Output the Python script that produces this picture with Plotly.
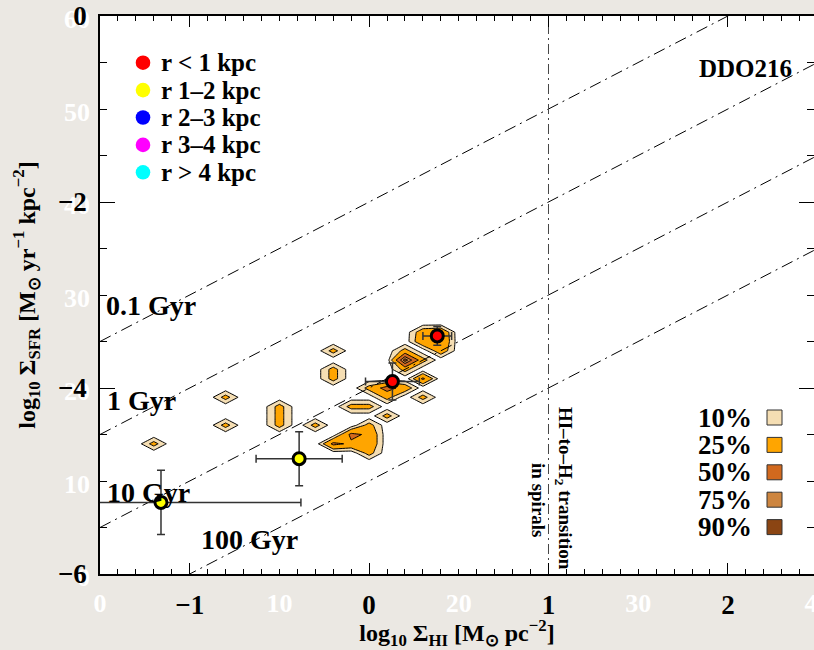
import numpy as np
import plotly.graph_objects as go

# ---------------- data ----------------
# radial-bin averages (r < 1 kpc : red, r 1-2 kpc : yellow)
red_x = [0.38, 0.13]
red_y = [-3.44, -3.93]
red_xerr = [0.08, 0.15]
red_yerr = [0.10, 0.20]

yel_x = [-0.39, -1.16]
yel_y = [-4.76, -5.23]
yel_xerr = [0.24, 0.78]
yel_yerr = [0.29, 0.345]

# constant depletion-time lines
depl_times_gyr = [0.1, 1, 10, 100]
depl_labels = ["0.1 Gyr", "1 Gyr", "10 Gyr", "100 Gyr"]
depl_label_x = [-1.48, -1.47, -1.47, -0.95]
depl_label_y = [-3.11, -4.13, -5.12, -5.63]

transition_x = 1.0

# pixel-density map (0.1 dex cells), value in % of peak density
cell_blob = ["C", "A", "B", "V", "V", "V", "F", "D", "E", "E", "G", "G", "H", "I", "J",
             "L", "L", "L", "L",
             "K", "K", "K", "K", "K", "K", "K",
             "M", "M", "M", "M",
             "N", "N", "N", "N", "N"]
cell_x = [-1.2, -0.8, -0.8, -0.5, -0.5, -0.5, -0.3, -0.2, -0.2, -0.2, -0.1, 0.0, 0.1, 0.3, 0.3,
          0.0, 0.1, 0.2, 0.1,
          0.0, -0.1, 0.0, -0.2, -0.1, 0.0, 0.0,
          0.2, 0.2, 0.3, 0.2,
          0.3, 0.4, 0.3, 0.4, 0.4]
cell_y = [-4.6, -4.1, -4.4, -4.2, -4.3, -4.4, -4.4, -3.6, -3.8, -3.9, -4.2, -4.2, -4.3, -4.1, -3.9,
          -4.0, -4.0, -4.0, -4.1,
          -4.4, -4.5, -4.5, -4.6, -4.6, -4.6, -4.7,
          -3.6, -3.7, -3.7, -3.8,
          -3.4, -3.4, -3.5, -3.5, -3.6]
cell_pct = [33, 33, 33, 33, 33, 33, 33, 33, 33, 33, 33, 33, 33, 33, 55,
            33, 60, 40, 33,
            33, 57, 45, 57, 45, 45, 33,
            33, 100, 33, 33,
            40, 45, 45, 48, 40]

contour_levels = [10, 25, 50, 75, 90]
contour_labels = ["10%", "25%", "50%", "75%", "90%"]
contour_colors = ["#f5deb3", "#ffa500", "#d2691e", "#cd853f", "#8b4513"]

radial_labels = ["r < 1 kpc", "r 1–2 kpc", "r 2–3 kpc", "r 3–4 kpc", "r > 4 kpc"]
radial_colors = ["#ff0000", "#ffff00", "#0000ff", "#ff00ff", "#00ffff"]

x_range = [-1.5, 2.48]
y_range = [-6.0, 0.0]
x_ticks = [-1, 0, 1, 2]
y_ticks = [0, -2, -4, -6]

ghost_x_vals = [-1.5, -0.5, 0.5, 1.5, 2.5]
ghost_x_text = ["0", "10", "20", "30", "40"]
ghost_y_vals = [0, -1, -2, -3, -4, -5, -6]
ghost_y_text = ["60", "50", "40", "30", "20", "10", "0"]

FONT = "Liberation Serif"
W, H = 814, 650
ML, MR, MT, MB = 100, 0, 16, 76
PW, PH = W - ML - MR, H - MT - MB


def xp(v):
    return (v - x_range[0]) / (x_range[1] - x_range[0])


def yp(v):
    return (v - y_range[0]) / (y_range[1] - y_range[0])


fig = go.Figure()

# depletion-time lines
xl = np.array([-1.5, 2.5])
for t in depl_times_gyr:
    fig.add_trace(go.Scatter(x=xl, y=xl - 3 - np.log10(t), mode="lines",
                             line=dict(color="black", width=1, dash="12px,5px,2px,5px"),
                             hoverinfo="skip", showlegend=False))
# HI-to-H2 transition
fig.add_trace(go.Scatter(x=[transition_x, transition_x], y=y_range, mode="lines",
                         line=dict(color="#444", width=1, dash="10px,4px,2px,4px"),
                         hoverinfo="skip", showlegend=False))

# density contours, one grid per connected blob
step = 0.1
blobs = []
for b in cell_blob:
    if b not in blobs:
        blobs.append(b)
for b in blobs:
    idx = [i for i, bb in enumerate(cell_blob) if bb == b]
    xs = [cell_x[i] for i in idx]
    ys = [cell_y[i] for i in idx]
    nx = int(round((max(xs) - min(xs)) / step)) + 5
    ny = int(round((max(ys) - min(ys)) / step)) + 5
    gx = np.round(min(xs) - 2 * step + step * np.arange(nx), 3)
    gy = np.round(min(ys) - 2 * step + step * np.arange(ny), 3)
    z = np.zeros((ny, nx))
    for i in idx:
        ix = int(round((cell_x[i] - gx[0]) / step))
        iy = int(round((cell_y[i] - gy[0]) / step))
        z[iy, ix] = cell_pct[i]
    for lev, col in zip(contour_levels, contour_colors):
        fig.add_trace(go.Contour(
            x=gx, y=gy, z=z, autocontour=False,
            contours=dict(start=lev, end=lev, size=1, coloring="fill", showlines=True),
            line=dict(color="black", width=1, smoothing=0),
            colorscale=[[0, "rgba(255,255,255,0)"], [1, col]],
            showscale=False, hoverinfo="skip", showlegend=False))

# radial-bin points
err_style = dict(type="data", color="#333", thickness=1.5, width=4)
fig.add_trace(go.Scatter(x=red_x, y=red_y, mode="markers",
                         error_x=dict(array=red_xerr, **err_style),
                         error_y=dict(array=red_yerr, **err_style),
                         marker=dict(color=radial_colors[0], size=12,
                                     line=dict(color="black", width=3)),
                         name=radial_labels[0], showlegend=False))
fig.add_trace(go.Scatter(x=yel_x, y=yel_y, mode="markers",
                         error_x=dict(array=yel_xerr, **err_style),
                         error_y=dict(array=yel_yerr, **err_style),
                         marker=dict(color=radial_colors[1], size=12,
                                     line=dict(color="black", width=3)),
                         name=radial_labels[1], showlegend=False))
# dummy trace for right-hand tick axis
fig.add_trace(go.Scatter(x=[None], y=[None], yaxis="y2", showlegend=False, hoverinfo="skip"))

shapes = []
annotations = []

# depletion labels
for lab, lx, ly in zip(depl_labels, depl_label_x, depl_label_y):
    annotations.append(dict(x=lx, y=ly, xref="x", yref="y", text="<b>%s</b>" % lab,
                            showarrow=False, xanchor="left", yanchor="middle",
                            font=dict(family=FONT, size=28, color="black")))

# transition labels
annotations.append(dict(x=transition_x, y=-5.08, xref="x", yref="y", xshift=15,
                        text="<b>HI–to–H<sub>2</sub> transition</b>", textangle=90,
                        showarrow=False, font=dict(family=FONT, size=19, color="black")))
annotations.append(dict(x=transition_x, y=-5.21, xref="x", yref="y", xshift=-10,
                        text="<b>in spirals</b>", textangle=90,
                        showarrow=False, font=dict(family=FONT, size=19, color="black")))

# galaxy name
annotations.append(dict(x=(745 - ML) / PW, y=1 - (68 - MT) / PH, xref="paper", yref="paper",
                        text="<b>DDO216</b>", showarrow=False, xanchor="center", yanchor="middle",
                        font=dict(family=FONT, size=25, color="black")))

# radial legend (top-left)
for k, (lab, col) in enumerate(zip(radial_labels, radial_colors)):
    cy = 1 - (62.7 + 27.4 * k - MT) / PH
    cx = (143 - ML) / PW
    rx, ry = 7.3 / PW, 7.3 / PH
    shapes.append(dict(type="circle", xref="paper", yref="paper",
                       x0=cx - rx, x1=cx + rx, y0=cy - ry, y1=cy + ry,
                       fillcolor=col, line=dict(width=0)))
    annotations.append(dict(x=(159 - ML) / PW, y=cy, xref="paper", yref="paper",
                            text="<b>%s</b>" % lab, showarrow=False,
                            xanchor="left", yanchor="middle",
                            font=dict(family=FONT, size=25, color="black")))

# contour-level legend (bottom-right)
for k, (lab, col) in enumerate(zip(contour_labels, contour_colors)):
    cy = 1 - (417.5 + 27.4 * k - MT) / PH
    shapes.append(dict(type="rect", xref="paper", yref="paper",
                       x0=(767 - ML) / PW, x1=(782 - ML) / PW,
                       y0=cy - 7.5 / PH, y1=cy + 7.5 / PH,
                       fillcolor=col, line=dict(color="#333", width=1)))
    annotations.append(dict(x=(754 - ML) / PW, y=cy, xref="paper", yref="paper",
                            text="<b>%s</b>" % lab, showarrow=False,
                            xanchor="right", yanchor="middle",
                            font=dict(family=FONT, size=27, color="black")))

# faint white background labels (drawn beneath the axes)
for v, t in zip(ghost_y_vals, ghost_y_text):
    shapes.append(dict(type="rect", xref="paper", yref="paper", layer="below",
                       x0=-0.14, x1=(93 - ML) / PW, y0=yp(v) - 0.02, y1=yp(v) + 0.02,
                       line=dict(width=0), fillcolor="rgba(0,0,0,0)",
                       label=dict(text="<b>%s</b>" % t, textposition="middle right", padding=0,
                                  font=dict(family=FONT, size=26, color="white"))))
for v, t in zip(ghost_x_vals, ghost_x_text):
    shapes.append(dict(type="rect", xref="paper", yref="paper", layer="below",
                       x0=xp(v) - 0.05, x1=xp(v) + 0.05,
                       y0=-(600 - (H - MB)) / PH - 0.02, y1=-(600 - (H - MB)) / PH + 0.02,
                       line=dict(width=0), fillcolor="rgba(0,0,0,0)",
                       label=dict(text="<b>%s</b>" % t, textposition="middle center", padding=0,
                                  font=dict(family=FONT, size=26, color="white"))))

tickfont = dict(family=FONT, size=27, color="black", weight="bold")

fig.update_layout(
    width=W, height=H,
    margin=dict(l=ML, r=MR, t=MT, b=MB, pad=0),
    paper_bgcolor="#ebe8e3",
    plot_bgcolor="white",
    showlegend=False,
    shapes=shapes,
    annotations=annotations,
    xaxis=dict(range=x_range, tickvals=x_ticks, ticks="inside", ticklen=11, tickwidth=1.3,
               tickcolor="black", showline=True, linecolor="black", linewidth=1.5,
               mirror="ticks", showgrid=False, zeroline=False, tickfont=tickfont,
               ticklabelstandoff=6,
               minor=dict(dtick=0.1, ticks="inside", ticklen=5, tickcolor="black",
                          tickwidth=1, showgrid=False),
               title=dict(text="<b>log<sub>10</sub> Σ<sub>HI</sub> [M<sub>⊙</sub> pc<sup>−2</sup>]</b>",
                          font=dict(family=FONT, size=24, color="black"), standoff=2)),
    yaxis=dict(range=y_range, tickvals=y_ticks, ticks="inside", ticklen=15, tickwidth=1.3,
               tickcolor="black", showline=True, linecolor="black", linewidth=1.5,
               mirror=False, showgrid=False, zeroline=False, tickfont=tickfont,
               ticklabelstandoff=6,
               minor=dict(dtick=0.5, ticks="inside", ticklen=7, tickcolor="black",
                          tickwidth=1, showgrid=False),
               title=dict(text="<b>log<sub>10</sub> Σ<sub>SFR</sub> [M<sub>⊙</sub> yr<sup>−1</sup> kpc<sup>−2</sup>]</b>",
                          font=dict(family=FONT, size=24, color="black"), standoff=16)),
    yaxis2=dict(range=y_range, overlaying="y", side="right", tickvals=y_ticks, ticks="inside",
                ticklen=15, tickwidth=1.3, tickcolor="black", showline=False,
                showticklabels=False, showgrid=False, zeroline=False,
                minor=dict(dtick=0.5, ticks="inside", ticklen=7, tickcolor="black",
                           tickwidth=1, showgrid=False)),
)

fig.write_html("out.html", config={"displayModeBar": False},
               post_script="document.body.style.margin='0px';document.body.style.overflow='hidden';")
